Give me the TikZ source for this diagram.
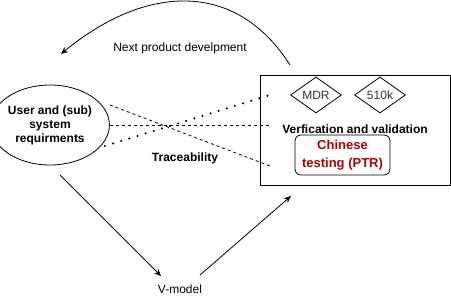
\documentclass[tikz,border=0pt]{standalone}
\usepackage{fontspec}
\setmainfont{Liberation Sans}
\usetikzlibrary{shapes.geometric,arrows.meta}
\definecolor{ptrred}{HTML}{B20000}
\begin{document}
\begin{tikzpicture}[x=1pt,y=-1pt,
  lbl/.style={inner sep=0pt,align=center,font=\fontsize{12}{14}\selectfont},
  boldlbl/.style={lbl,font=\fontsize{12}{14}\selectfont\bfseries},
  arr/.style={draw,line width=0.8pt,-{Stealth[length=7pt,width=6pt]}},
  dsh/.style={draw,line width=0.8pt,dash pattern=on 3pt off 3pt},
  dtt/.style={draw,line width=2.3pt,line cap=round,dash pattern=on 0pt off 8.5pt},
  dia/.style={draw,diamond,line width=0.8pt,minimum width=51pt,minimum height=36pt,inner sep=0pt,font=\fontsize{12}{14}\selectfont,text=black!80}]
\useasboundingbox (0,0) rectangle (451,306);
\node[draw,ellipse,line width=0.8pt,minimum width=100pt,minimum height=80pt,inner sep=0pt,align=center,font=\fontsize{12}{14}\selectfont\bfseries] (req) at (50,125) {User and (sub)\\system\\requirments};
\node[draw,line width=0.8pt,minimum width=190pt,minimum height=110pt,inner sep=0pt] (box) at (355,130) {};
\node[dia] (mdr) at (316,95) {MDR};
\node[dia] (k510) at (380,95) {510k};
\node[boldlbl] (vv) at (355,129) {Verfication and validation};
\node[draw,rounded corners=6pt,line width=0.8pt,minimum width=95pt,minimum height=40pt,inner sep=0pt,align=center,text=ptrred,font=\fontsize{13}{18}\selectfont\bfseries] (ptr) at (342.5,155) {Chinese\\testing (PTR)};
\node[boldlbl] (trace) at (185,158) {Traceability};
\node[lbl] (vmodel) at (180,289) {V-model};
\node[lbl] (next) at (180,48) {Next product develpment};
\coordinate (d1a) at (110,105);
\coordinate (d1b) at (270,166);
\coordinate (d2a) at (110,125);
\coordinate (d2b) at (270,125);
\coordinate (d3a) at (105,146);
\coordinate (d3b) at (270,95);
\draw[dsh] (d1a) -- (d1b);
\draw[dsh] (d2a) -- (d2b);
\draw[dtt] (d3a) -- (d3b);
\coordinate (a1s) at (60,175);
\coordinate (a1e) at (161,276);
\coordinate (a2s) at (200,275);
\coordinate (a2e) at (291,196);
\coordinate (cs) at (290,65);
\coordinate (ce) at (61,54);
\draw[arr] (a1s) -- (a1e);
\draw[arr] (a2s) -- (a2e);
\draw[arr] (cs) .. controls (236,-20) and (146,-16) .. (ce);
\end{tikzpicture}
\end{document}
